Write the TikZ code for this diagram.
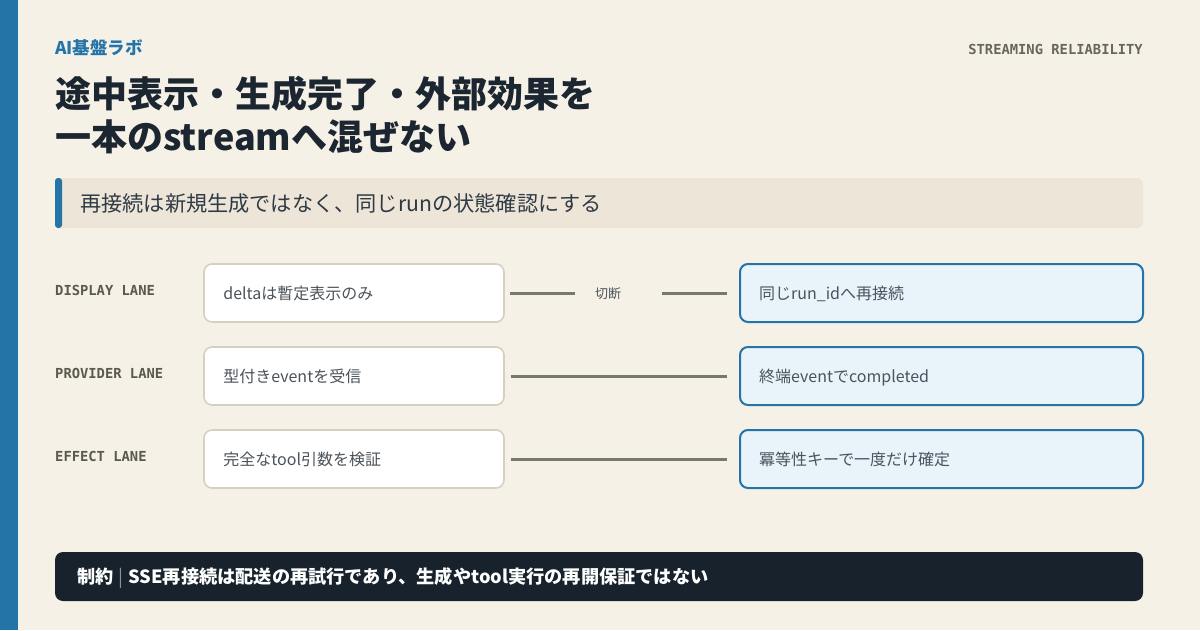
\documentclass[tikz,border=0pt]{standalone}
\usepackage{fontspec}
\setmainfont{Noto Sans CJK JP}
\newfontfamily\jp{Noto Sans CJK JP}
\newfontfamily\mono{DejaVu Sans Mono}
\definecolor{bg}{HTML}{F6F1E7}
\definecolor{accent}{HTML}{2474A8}
\definecolor{band}{HTML}{ECE5D8}
\definecolor{ink}{HTML}{1C2631}
\definecolor{subink}{HTML}{2F3A45}
\definecolor{lanegray}{HTML}{5A584F}
\definecolor{taggray}{HTML}{67665C}
\definecolor{boxtxt}{HTML}{4B535B}
\definecolor{lborder}{HTML}{D6D0C3}
\definecolor{rfill}{HTML}{E9F3FA}
\definecolor{conncol}{HTML}{777970}
\definecolor{darkbar}{HTML}{18222C}
\definecolor{sepgray}{HTML}{8A9199}
\tikzset{
  lanelabel/.style={anchor=base west, inner sep=0pt, text=lanegray, font=\fontsize{13.8}{14}\selectfont\mono\bfseries},
  leftbox/.style={draw=lborder, line width=1.6pt, fill=white, rounded corners=8pt, minimum width=300pt, minimum height=58pt, inner sep=0pt},
  rightbox/.style={draw=accent, line width=2pt, fill=rfill, rounded corners=8pt, minimum width=403pt, minimum height=58pt, inner sep=0pt},
  boxtext/.style={anchor=base west, inner sep=0pt, text=boxtxt, font=\fontsize{16}{16}\selectfont\jp},
  conn/.style={draw=conncol, line width=3pt},
}
\begin{document}
\begin{tikzpicture}[x=1pt,y=-1pt]
\useasboundingbox (0,0) rectangle (1200,630);
\fill[bg] (0,0) rectangle (1200,630);
\fill[accent] (0,0) rectangle (18,630);
% header
\node[anchor=base west, inner sep=0pt, text=accent, font=\fontsize{17.5}{18}\selectfont\jp\bfseries] (brand) at (55,54) {AI基盤ラボ};
\node[anchor=base east, inner sep=0pt, text=taggray, font=\fontsize{13.8}{14}\selectfont\mono\bfseries] (tag) at (1143,54) {STREAMING RELIABILITY};
\node[anchor=base west, inner sep=0pt, text=ink, font=\fontsize{36}{36}\selectfont\jp\bfseries] (t1) at (55,107.5) {途中表示・生成完了・外部効果を};
\node[anchor=base west, inner sep=0pt, text=ink, font=\fontsize{36}{36}\selectfont\jp\bfseries] (t2) at (55,150.5) {一本のstreamへ混ぜない};
% subtitle band
\fill[band, rounded corners=6pt] (55,178) rectangle (1143,228);
\fill[accent, rounded corners=3pt] (55,178) rectangle (62,228);
\node[anchor=base west, inner sep=0pt, text=subink, font=\fontsize{21.2}{22}\selectfont\jp] (sub) at (80,211) {再接続は新規生成ではなく、同じrunの状態確認にする};
% lanes
\node[lanelabel] (l1) at (55,295.5) {DISPLAY LANE};
\node[lanelabel] (l2) at (55,378.5) {PROVIDER LANE};
\node[lanelabel] (l3) at (55,461.5) {EFFECT LANE};
% boxes
\node[leftbox] (a1) at (354,293) {};
\node[leftbox] (a2) at (354,376) {};
\node[leftbox] (a3) at (354,459) {};
\node[rightbox] (b1) at (941.5,293) {};
\node[rightbox] (b2) at (941.5,376) {};
\node[rightbox] (b3) at (941.5,459) {};
\node[boxtext] at ([xshift=20pt,yshift=-6pt]a1.west) {deltaは暫定表示のみ};
\node[boxtext] at ([xshift=20pt,yshift=-6pt]a2.west) {型付きeventを受信};
\node[boxtext] at ([xshift=20pt,yshift=-6pt]a3.west) {完全なtool引数を検証};
\node[boxtext] at ([xshift=20pt,yshift=-6pt]b1.west) {同じrun\_idへ再接続};
\node[boxtext] at ([xshift=20pt,yshift=-6pt]b2.west) {終端eventでcompleted};
\node[boxtext] at ([xshift=20pt,yshift=-6pt]b3.west) {冪等性キーで一度だけ確定};
% connectors
\node[inner sep=0pt, text=boxtxt, font=\fontsize{13}{13}\selectfont\jp] (cut) at (608,294) {切断};
\draw[conn, shorten <=5pt, shorten >=20pt] (a1.east) -- (cut.west |- a1.east);
\draw[conn, shorten <=41pt, shorten >=12pt] (cut.east |- b1.west) -- (b1.west);
\draw[conn, shorten <=6pt, shorten >=12pt] (a2.east) -- (b2.west);
\draw[conn, shorten <=6pt, shorten >=12pt] (a3.east) -- (b3.west);
% bottom bar
\fill[darkbar, rounded corners=8pt] (55,552) rectangle (1143,601);
\node[anchor=base west, inner sep=0pt, text=white, font=\fontsize{18.2}{19}\selectfont\jp\bfseries] (note) at (77,583.5) {制約\hspace{5pt}{\color{sepgray}\mdseries|}\hspace{5pt}SSE再接続は配送の再試行であり、生成やtool実行の再開保証ではない};
\end{tikzpicture}
\end{document}
